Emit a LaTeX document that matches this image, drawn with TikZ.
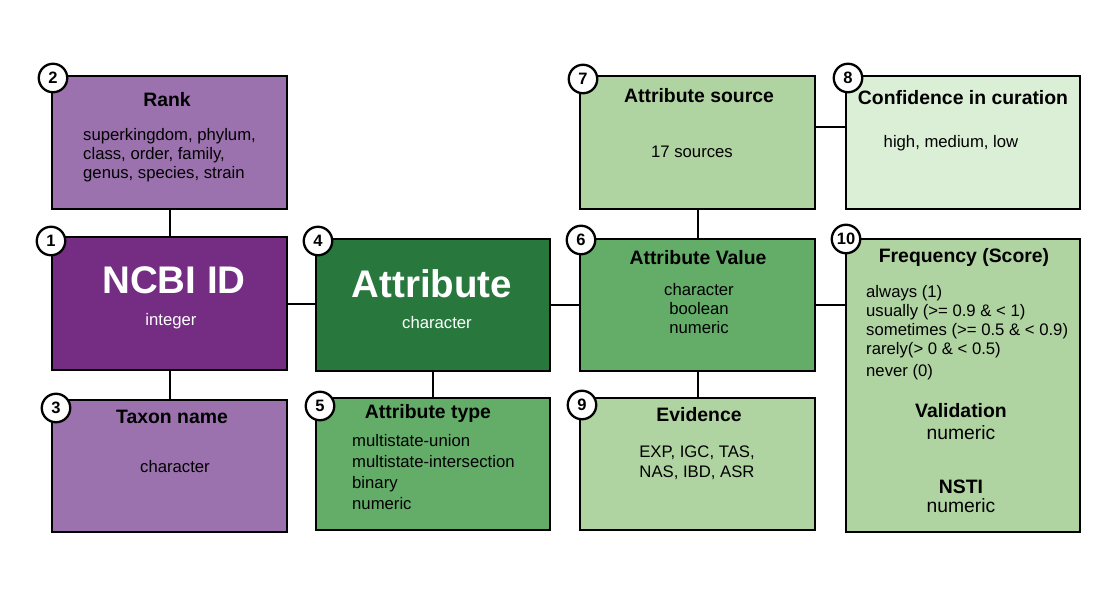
\documentclass[tikz,border=0pt]{standalone}
\usepackage{fontspec}
\setmainfont{Liberation Sans}
\newcommand\myfs[2]{\fontsize{#1}{#2}\selectfont}
\definecolor{purpleD}{HTML}{742D82}
\definecolor{purpleL}{HTML}{9B72AE}
\definecolor{greenD}{HTML}{28783E}
\definecolor{greenM}{HTML}{63AD69}
\definecolor{greenL}{HTML}{B0D3A2}
\definecolor{greenXL}{HTML}{DAEFD6}
\begin{document}
\begin{tikzpicture}[x=1pt,y=-1pt,
  box/.style={draw=black, line width=2.6pt, anchor=north west, inner sep=0pt, outer sep=0pt, minimum width=235pt, minimum height=133pt},
  num/.style={circle, draw=black, fill=white, line width=2.3pt, minimum size=28.5pt, inner sep=0pt, font=\bfseries\myfs{16.5}{16.5}},
  link/.style={draw=black, line width=2pt},
  ttl/.style={font=\bfseries\myfs{19.4}{21}, inner sep=0pt},
  big/.style={font=\bfseries\myfs{38.5}{40}, inner sep=0pt, text=white},
  txt/.style={font=\myfs{16.7}{19}, inner sep=0pt, align=left},
  txtc/.style={font=\myfs{16.7}{19}, inner sep=0pt, align=center},
  val/.style={font=\myfs{19.3}{21}, inner sep=0pt}]
\useasboundingbox[fill=white] (0,0) rectangle (1117,596);

% boxes
\node[box, fill=purpleL] (rank) at (52,76) {};
\node[box, fill=purpleD] (ncbi) at (52,237) {};
\node[box, fill=purpleL, minimum height=132pt] (taxon) at (52,400) {};
\node[box, fill=greenD, minimum width=234pt, minimum height=132pt] (attr) at (316,239) {};
\node[box, fill=greenM, minimum width=234pt, minimum height=132pt] (atype) at (316,398) {};
\node[box, fill=greenM, minimum height=132pt] (aval) at (580,239) {};
\node[box, fill=greenL] (asrc) at (580,76) {};
\node[box, fill=greenXL, minimum width=234pt] (conf) at (846,76) {};
\node[box, fill=greenL, minimum height=132pt] (evid) at (580,398) {};
\node[box, fill=greenL, minimum width=234pt, minimum height=293pt] (freq) at (846,239) {};

% connectors
\draw[link] (rank.south) -- (ncbi.north);
\draw[link] (ncbi.south) -- (taxon.north);
\draw[link] (ncbi.east) -- (ncbi.east -| attr.west);
\draw[link] (attr.south) -- (atype.north);
\draw[link] (attr.east) -- (aval.west);
\draw[link] (aval.north) -- (asrc.south);
\draw[link] (aval.south) -- (evid.north);
\draw[link] (aval.east) -- (aval.east -| freq.west);
\draw[link] ([yshift=15.5pt]asrc.east) -- ([yshift=15.5pt]asrc.east -| conf.west);

% texts
\node[ttl] (rankT) at (167,100) {Rank};
\node[txt, anchor=west] (rankB) at (83,155) {superkingdom, phylum,\\class, order, family,\\genus, species, strain};
\node[big] (ncbiT) at (174,280) {NCBI ID};
\node[txtc, text=white] (ncbiB) at (171,321) {integer};
\node[ttl] (taxonT) at (172,417) {Taxon name};
\node[txtc] (taxonB) at (175,467) {character};
\node[big] (attrT) at (432,284) {Attribute};
\node[txtc, text=white] (attrB) at (437,323) {character};
\node[ttl] (atypeT) at (428,413) {Attribute type};
\node[txt, anchor=west, font=\myfs{16.7}{21}] (atypeB) at (352,472) {multistate-union\\multistate-intersection\\binary\\numeric};
\node[ttl] (avalT) at (698,258) {Attribute Value};
\node[txtc] (avalB) at (699,309) {character\\boolean\\numeric};
\node[ttl] (asrcT) at (699,96) {Attribute source};
\node[txtc] (asrcB) at (692,152) {17 sources};
\node[ttl] (confT) at (963,98) {Confidence in curation};
\node[txtc] (confB) at (951,143) {high, medium, low};
\node[ttl] (evidT) at (699,415) {Evidence};
\node[txtc, font=\myfs{16.7}{20}] (evidB) at (697,463) {EXP, IGC, TAS,\\NAS, IBD, ASR};
\node[ttl] (freqT) at (964,257) {Frequency (Score)};
\node[txt, anchor=west] (freq1) at (866,293) {always (1)};
\node[txt, anchor=west] (freq2) at (866,312) {usually (>= 0.9 \& < 1)};
\node[txt, anchor=west] (freq3) at (866,331) {sometimes (>= 0.5 \& < 0.9)};
\node[txt, anchor=west] (freq4) at (866,350) {rarely(> 0 \& < 0.5)};
\node[txt, anchor=west] (freq5) at (866,372) {never (0)};
\node[ttl] (validT) at (961,411) {Validation};
\node[val] (validB) at (961,433) {numeric};
\node[ttl] (nstiT) at (961,487) {NSTI};
\node[val] (nstiB) at (961,506) {numeric};

% number circles
\node[num] (n1) at (51,241) {1};
\node[num] (n2) at (53,78) {2};
\node[num] (n3) at (56,408) {3};
\node[num] (n4) at (318,241) {4};
\node[num] (n5) at (320,406) {5};
\node[num] (n6) at (581,240) {6};
\node[num] (n7) at (583,79) {7};
\node[num] (n8) at (848,78) {8};
\node[num] (n9) at (582,405) {9};
\node[num] (n10) at (846,239) {10};
\end{tikzpicture}
\end{document}
